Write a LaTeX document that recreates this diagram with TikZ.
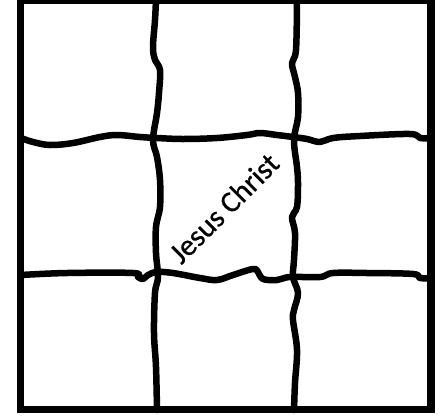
\documentclass[tikz,border=0pt]{standalone}
\usepackage{fontspec}
\newfontfamily\labelfont[FakeBold=0.8]{Carlito}
\begin{document}
\begin{tikzpicture}[x=1pt,y=-1pt,
  gridline/.style={line width=6.5pt,line cap=round,line join=round,black},
  frameline/.style={line width=7.5pt,black},
  label/.style={font=\labelfont\fontsize{30}{32}\selectfont,inner sep=0pt}]
\useasboundingbox (0,0) rectangle (441,418);
\begin{scope}
\clip (0,0) rectangle (441,418);
% horizontal line 1
\draw[gridline] plot[smooth,tension=0.6] coordinates {
 (21,138) (33,142) (50,145) (73,143) (100,137) (117,135) (140,137) (157,138)
 (183,139) (217,138) (247,135) (260,133) (277,135) (293,137) (307,139) (320,142)
 (333,138) (360,136) (410,134) (420,138) (431,138)};
% horizontal line 2
\draw[gridline] plot[smooth,tension=0.6] coordinates {
 (21,275) (67,273) (133,273) (138,277) (143,279) (148,275) (157,272) (173,273)
 (200,278) (217,280) (233,275) (253,269) (258,272) (263,279) (277,280) (290,277)
 (320,277) (333,273) (367,273) (413,274) (420,278) (431,278)};
% vertical line 1
\draw[gridline] plot[smooth,tension=0.6] coordinates {
 (156,0) (155,20) (153,47) (155,60) (160,70) (159,93) (157,113) (153,140)
 (157,157) (160,180) (160,207) (156,227) (156,253) (158,277) (155,293)
 (154,333) (156,367) (157,410)};
% vertical line 2
\draw[gridline] plot[smooth,tension=0.6] coordinates {
 (297,0) (296,50) (292,63) (295,77) (298,93) (298,117) (294,140) (297,167)
 (298,183) (297,207) (292,217) (295,233) (294,260) (293,277) (298,293)
 (294,310) (293,320) (297,350) (295,383) (294,410)};
% frame
\draw[frameline] (20.7,0.5) rectangle (431,409.7);
\end{scope}
\node[label,rotate=45] (jc) at (224,208) {Jesus Christ};
\end{tikzpicture}
\end{document}
